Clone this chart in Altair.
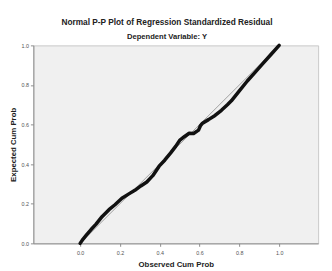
import altair as alt
import pandas as pd

# Observed vs expected cumulative probabilities
observed = [0.0, 0.015, 0.03, 0.055, 0.08, 0.11, 0.145, 0.175, 0.21, 0.245, 0.275,
            0.305, 0.335, 0.365, 0.397, 0.425, 0.455, 0.48, 0.50, 0.525, 0.548,
            0.57, 0.595, 0.605, 0.615, 0.645, 0.678, 0.71, 0.74, 0.76, 0.80,
            0.84, 0.88, 0.92, 0.96, 1.0]
expected = [0.0, 0.022, 0.04, 0.07, 0.097, 0.135, 0.17, 0.195, 0.228, 0.25, 0.268,
            0.29, 0.31, 0.342, 0.39, 0.42, 0.457, 0.49, 0.52, 0.54, 0.556,
            0.555, 0.572, 0.595, 0.607, 0.625, 0.646, 0.672, 0.70, 0.72, 0.77,
            0.82, 0.865, 0.91, 0.955, 1.0]
diag_x = [0.0, 1.0]
diag_y = [0.0, 1.0]
x_ticks = [0.0, 0.2, 0.4, 0.6, 0.8, 1.0]
y_ticks = [0.0, 0.2, 0.4, 0.6, 0.8, 1.0]

df = pd.DataFrame({"obs": observed, "exp": expected})
dd = pd.DataFrame({"obs": diag_x, "exp": diag_y})

FONT = "Liberation Sans"

xenc = alt.X("obs:Q", title="Observed Cum Prob",
             scale=alt.Scale(domain=[-0.235, 1.196], nice=False, zero=False),
             axis=alt.Axis(values=x_ticks, format=".1f"))
yenc = alt.Y("exp:Q", title="Expected Cum Prob",
             scale=alt.Scale(domain=[0, 1], nice=False),
             axis=alt.Axis(values=y_ticks, format=".1f"))

diag = alt.Chart(dd).mark_line(color="#8a8a8a", strokeWidth=0.8).encode(x=xenc, y=yenc)
pts = alt.Chart(df).mark_line(color="#111111", strokeWidth=3.6,
                              strokeJoin="round", strokeCap="round").encode(x=xenc, y=yenc)

chart = (diag + pts).properties(
    width=292, height=203,
    padding={"left": 26, "top": 35, "right": 6, "bottom": 25},
    autosize=alt.AutoSizeParams(type="none"),
    title=alt.Title("Normal P-P Plot of Regression Standardized Residual",
                    subtitle="Dependent Variable: Y",
                    fontSize=8.5, subtitleFontSize=7.8, fontWeight="bold",
                    subtitleFontWeight="bold", font=FONT, subtitleFont=FONT,
                    color="#222222", subtitleColor="#222222",
                    anchor="middle", dx=-9, offset=3, subtitlePadding=7),
).configure_view(
    fill="#f0f0f0", stroke="#c8c8c8", strokeWidth=1
).configure_axis(
    grid=False, domainColor="#8c8c8c", tickColor="#8c8c8c", tickSize=3,
    labelFont=FONT, labelFontSize=5.5, labelColor="#555555", labelPadding=2,
    titleFont=FONT, titleFontSize=8, titleFontWeight="bold", titleColor="#222222",
).configure_axisX(labelPadding=4, titlePadding=5).configure_axisY(titlePadding=4)

chart.save("out.html", embed_options={"renderer": "svg", "actions": False})
